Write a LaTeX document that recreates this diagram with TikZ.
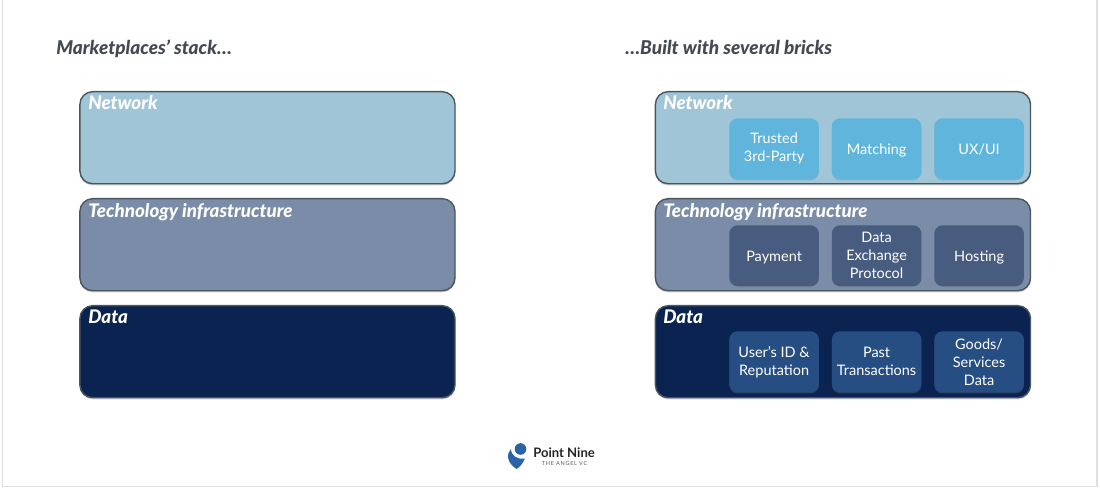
\documentclass[tikz,border=0pt]{standalone}
\usepackage{fontspec}
\setmainfont{Lato}
\newfontfamily\heavyfont{Lato Black}
\usetikzlibrary{shadows}
\definecolor{networkblue}{HTML}{A0C5D7}
\definecolor{techblue}{HTML}{7A8CA8}
\definecolor{datablue}{HTML}{0A2350}
\definecolor{edgegrey}{HTML}{4A5560}
\definecolor{networkbrick}{HTML}{5FB5DB}
\definecolor{techbrick}{HTML}{485C7F}
\definecolor{databrick}{HTML}{264E82}
\definecolor{titlegrey}{HTML}{434A54}
\definecolor{logoblue}{HTML}{2A62A8}
\tikzset{
  layer/.style={draw=edgegrey, line width=1pt, rounded corners=9pt, anchor=north west,
    minimum width=9.375cm, minimum height=2.3cm, drop shadow={shadow xshift=0pt, shadow yshift=-1.2pt, opacity=.35}},
  brick/.style={rounded corners=6pt, anchor=north west, minimum width=2.24cm, minimum height=1.525cm,
    align=center, inner sep=0pt, text=white, font=\fontsize{10.3}{12.8}\selectfont,
    drop shadow={shadow xshift=0pt, shadow yshift=-.8pt, opacity=.3}},
  oneline/.style={text height=7.5pt, text depth=0pt},
  layerlabel/.style={anchor=base west, inner sep=0pt, text=white, font=\fontsize{13.35}{15}\selectfont\heavyfont\itshape},
  title/.style={anchor=base west, inner sep=0pt, text=titlegrey, font=\fontsize{13.55}{15}\selectfont\heavyfont\itshape},
  frameline/.style={draw=black!13, line width=1pt}
}
\begin{document}
\begin{tikzpicture}[x=.025cm,y=-.025cm]
  \useasboundingbox (0,0) rectangle (1100,490);
  \fill[white] (0,0) rectangle (1100,490);
  \coordinate (frametl) at (2.5,0);
  \coordinate (framebl) at (2.5,486.5);
  \coordinate (framebr) at (1097,486.5);
  \coordinate (frametr) at (1097,0);
  \draw[frameline] (frametl) -- (framebl) -- (framebr) -- (frametr);

  \node[title] (lefttitle) at (56,55) {Marketplaces’ stack…};
  \node[title] (righttitle) at (625,55) {…Built with several bricks};

  %% left stack
  \node[layer,fill=networkblue] (leftnetwork) at (79.2,91) {};
  \node[layer,fill=techblue] (lefttech) at (79.2,198) {};
  \node[layer,fill=datablue] (leftdata) at (79.2,305) {};
  \node[layerlabel] (leftnetworklabel) at (88,110) {Network};
  \node[layerlabel] (lefttechlabel) at (88,217.5) {Technology infrastructure};
  \node[layerlabel] (leftdatalabel) at (88,324) {Data};

  %% right stack
  \node[layer,fill=networkblue] (rightnetwork) at (654.7,91) {};
  \node[layer,fill=techblue] (righttech) at (654.7,198) {};
  \node[layer,fill=datablue] (rightdata) at (654.7,305) {};
  \node[layerlabel] (rightnetworklabel) at (663,110) {Network};
  \node[layerlabel] (righttechlabel) at (663,217.5) {Technology infrastructure};
  \node[layerlabel] (rightdatalabel) at (663,324) {Data};

  \node[brick,fill=networkbrick] (trusted) at (729,118) {Trusted\\3rd-Party};
  \node[brick,fill=networkbrick,oneline] (matching) at (831.5,118) {Matching};
  \node[brick,fill=networkbrick,oneline] (uxui) at (934,118) {UX/UI};

  \node[brick,fill=techbrick,oneline] (payment) at (729,225) {Payment};
  \node[brick,fill=techbrick] (protocol) at (831.5,225) {Data\\Exchange\\Protocol};
  \node[brick,fill=techbrick,oneline] (hosting) at (934,225) {Hosting};

  \node[brick,fill=databrick] (userid) at (729,331) {User’s ID \&\\Reputation};
  \node[brick,fill=databrick] (past) at (831.5,331) {Past\\Transactions};
  \node[brick,fill=databrick] (goods) at (934,331) {Goods/\\Services\\Data};

  %% logo
  \fill[logoblue] (520.5,449) circle (5.8);
  \fill[logoblue] (511,449) .. controls (506,454) and (507,463) .. (516.5,469)
    .. controls (520,467) and (523,463) .. (525,458.5)
    .. controls (518,460) and (511,456) .. (511,449) -- cycle;
  \node[anchor=west,inner sep=0pt,text=black!85,font=\fontsize{9.3}{11}\selectfont\bfseries] (pointnine) at (533,453) {Point Nine};
  \node[anchor=west,inner sep=0pt,text=black!65,font=\fontsize{3.9}{5}\selectfont\addfontfeature{LetterSpace=14}] (angelvc) at (541.5,464) {THE ANGEL VC};
\end{tikzpicture}
\end{document}
